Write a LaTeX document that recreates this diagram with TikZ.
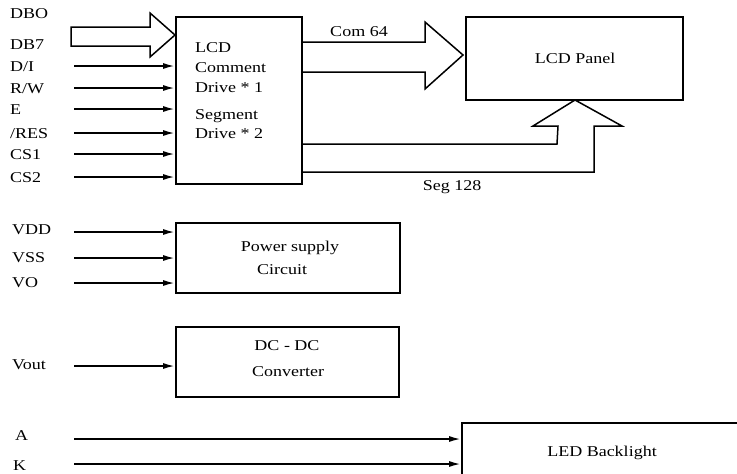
\documentclass[tikz,border=0pt]{standalone}
\usepackage{fontspec}
\setmainfont{Liberation Serif}[FakeStretch=1.2]
\usetikzlibrary{arrows.meta}

\begin{document}
\begin{tikzpicture}[x=1pt,y=-1pt,
  every node/.style={font=\fontsize{15}{18}\selectfont,inner sep=0pt},
  block/.style={draw,line width=1.5pt,anchor=north west},
  txt/.style={anchor=base},
  pin/.style={anchor=base west},
  flow/.style={-{Latex[length=12pt,width=6pt]},line width=1.8pt},
  bus/.style={line width=1.5pt}
]
  \useasboundingbox (0,0) rectangle (737,474);

  % blocks
  \node[block,minimum width=126pt,minimum height=167pt] (lcd) at (175,16) {};
  \node[block,minimum width=217pt,minimum height=83pt] (panel) at (465,16) {};
  \node[block,minimum width=224pt,minimum height=70pt] (power) at (175,222) {};
  \node[block,minimum width=223pt,minimum height=70pt] (dcdc) at (175,326) {};
  \node[block,minimum width=300pt,minimum height=80pt] (led) at (461,422) {};

  % texts in blocks
  \node[pin] (lcd-t1) at (195,52) {LCD};
  \node[pin] (lcd-t2) at (195,72) {Comment};
  \node[pin] (lcd-t3) at (195,92) {Drive * 1};
  \node[pin] (lcd-t4) at (195,119) {Segment};
  \node[pin] (lcd-t5) at (195,138) {Drive * 2};
  \node[txt] (panel-t) at (575,63) {LCD Panel};
  \node[txt] (power-t1) at (290,251) {Power supply};
  \node[txt] (power-t2) at (282,274) {Circuit};
  \node[txt] (dcdc-t1) at (287,350) {DC - DC};
  \node[txt] (dcdc-t2) at (288,376) {Converter};
  \node[txt] (led-t) at (602,456) {LED Backlight};

  % data bus
  \node[pin] (dbo) at (10,18) {DBO};
  \node[pin] (db7) at (10,49) {DB7};
  \draw[bus] (71,27) -- (150,27) -- (150,13) -- (175,35)
    -- (150,57) -- (150,46) -- (71,46) -- cycle;

  % control inputs
  \foreach \sig/\y [count=\i] in {{D/I}/66,{R/W}/88,E/109,{/RES}/133,CS1/154,CS2/177}{
    \node[pin] (ctl\i) at (10,\y+5) {\sig};
    \coordinate (ctl\i-in) at (74,\y);
    \draw[flow] (ctl\i-in) -- (ctl\i-in -| lcd.west);
  }

  % common and segment buses
  \draw[bus] (301,42) -- (425,42) -- (425,22) -- (463,55)
    -- (425,89) -- (425,72) -- (301,72);
  \node[txt] (com) at (359,36) {Com 64};
  \draw[bus] (301,144) -- (557,144) -- (558,126) -- (533,126) -- (575,100)
    -- (622,126) -- (594,126) -- (594,172) -- (301,172);
  \node[txt] (seg) at (452,190) {Seg 128};

  % supply inputs
  \foreach \sig/\y/\b [count=\i] in {VDD/232/234,VSS/258/262,VO/283/287}{
    \node[pin] (sup\i) at (12,\b) {\sig};
    \coordinate (sup\i-in) at (74,\y);
    \draw[flow] (sup\i-in) -- (sup\i-in -| power.west);
  }

  \node[pin] (vout) at (12,369) {Vout};
  \coordinate (vout-in) at (74,366);
  \draw[flow] (vout-in) -- (vout-in -| dcdc.west);

  % backlight
  \node[pin] (anode) at (15,440) {A};
  \node[pin] (cathode) at (13,470) {K};
  \coordinate (anode-in) at (74,439);
  \coordinate (cathode-in) at (74,464);
  \draw[flow] (anode-in) -- (anode-in -| led.west);
  \draw[flow] (cathode-in) -- (cathode-in -| led.west);
\end{tikzpicture}
\end{document}
